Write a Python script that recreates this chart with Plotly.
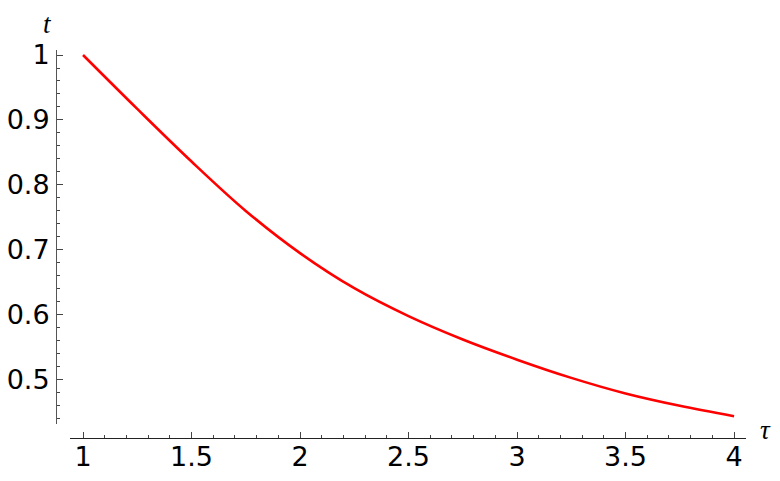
import plotly.graph_objects as go

tau = [1.0, 1.25, 1.5, 1.75, 2.0, 2.25, 2.5, 2.75, 3.0, 3.25, 3.5, 3.75, 4.0]
t_vals = [1.0, 0.917, 0.836, 0.760, 0.695, 0.641, 0.598, 0.562, 0.531, 0.503, 0.479, 0.460, 0.444]

x_ticks = [1, 1.5, 2, 2.5, 3, 3.5, 4]
x_ticktext = ["1", "1.5", "2", "2.5", "3", "3.5", "4"]
y_ticks = [0.5, 0.6, 0.7, 0.8, 0.9, 1.0]
y_ticktext = ["0.5", "0.6", "0.7", "0.8", "0.9", "1"]

W, H = 780, 481

fig = go.Figure()
fig.add_trace(go.Scatter(x=tau, y=t_vals, mode="lines",
                         line=dict(color="#ff0000", width=2.6, shape="spline", smoothing=1.0),
                         showlegend=False, hoverinfo="skip", cliponaxis=False))

font = dict(family="DejaVu Sans", size=27, color="black")
fig.update_layout(
    width=W, height=H, autosize=False,
    margin=dict(l=0, r=0, t=0, b=0, pad=0, autoexpand=False),
    paper_bgcolor="white", plot_bgcolor="white",
    xaxis=dict(domain=[70 / W, 746 / W], range=[0.94, 4.055],
               anchor="free", position=1 - 437.5 / H, automargin=False,
               showgrid=False, zeroline=False,
               showline=True, linecolor="#222", linewidth=1,
               ticks="inside", ticklen=6, tickcolor="#444", tickwidth=1,
               tickvals=x_ticks, ticktext=x_ticktext, tickfont=font,
               minor=dict(dtick=0.1, tick0=0, ticks="inside", ticklen=3,
                          tickcolor="#444", tickwidth=1, showgrid=False),
               ticklabelstandoff=-5),
    yaxis=dict(domain=[1 - 424 / H, 1 - 50 / H], range=[0.432, 1.0077],
               anchor="free", position=56 / W, automargin=False,
               showgrid=False, zeroline=False,
               showline=True, linecolor="#555", linewidth=1,
               ticks="inside", ticklen=6, tickcolor="#444", tickwidth=1,
               tickvals=y_ticks, ticktext=y_ticktext, tickfont=font,
               minor=dict(dtick=0.02, tick0=0, ticks="inside", ticklen=3,
                          tickcolor="#444", tickwidth=1, showgrid=False),
               ticklabelstandoff=1),
    annotations=[
        dict(text="<i>t</i>", xref="paper", yref="paper", x=47 / W, y=1 - 24 / H,
             showarrow=False, xanchor="center", yanchor="middle",
             font=dict(family="Liberation Serif", size=27, color="black")),
        dict(text="<i>τ</i>", xref="paper", yref="paper", x=765 / W, y=1 - 430 / H,
             showarrow=False, xanchor="center", yanchor="middle",
             font=dict(family="Liberation Serif", size=27, color="black")),
    ],
)

fig.write_html("out.html", config={"displayModeBar": False},
               post_script="document.body.style.margin='0';")
